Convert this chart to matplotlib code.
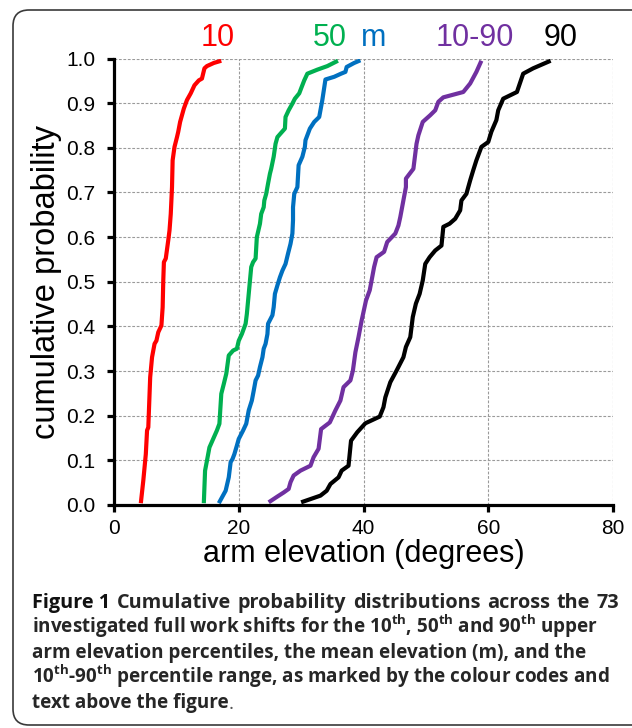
import matplotlib
matplotlib.use("Agg")
import matplotlib.pyplot as plt
from matplotlib.patches import FancyBboxPatch
from matplotlib.transforms import IdentityTransform

# ---------------- data ----------------
p10_x = [4.3, 4.7, 5.1, 5.3, 5.5, 5.8, 6.1, 6.5, 6.8, 7.1, 7.6, 7.8, 7.9, 8.0, 8.3, 8.7, 8.9,
         9.1, 9.3, 9.4, 9.7, 10.1, 10.3, 10.6, 11.2, 11.7, 12.3, 12.9, 13.6, 14.1, 14.5, 14.9,
         16.0, 17.2]
p10_y = [0.004, 0.055, 0.114, 0.167, 0.174, 0.286, 0.331, 0.361, 0.368, 0.387, 0.402, 0.443,
         0.503, 0.544, 0.552, 0.593, 0.615, 0.652, 0.712, 0.772, 0.802, 0.824, 0.836, 0.858,
         0.888, 0.907, 0.922, 0.940, 0.951, 0.955, 0.978, 0.983, 0.990, 0.995]

p50_x = [14.4, 14.6, 14.9, 15.3, 15.9, 16.5, 16.9, 17.2, 17.6, 18.0, 18.4, 19.1, 19.7, 20.0,
         20.5, 21.1, 21.3, 21.6, 22.0, 22.3, 22.7, 22.9, 23.4, 23.6, 24.0, 24.1, 24.4, 24.7,
         25.0, 25.2, 25.6, 25.9, 26.2, 26.7, 27.4, 27.5, 28.0, 28.6, 29.0, 29.7, 30.0, 30.5,
         31.0, 32.6, 34.2, 35.9]
p50_y = [0.004, 0.077, 0.099, 0.129, 0.148, 0.167, 0.182, 0.249, 0.271, 0.294, 0.335, 0.346,
         0.350, 0.368, 0.383, 0.406, 0.428, 0.473, 0.533, 0.544, 0.552, 0.600, 0.630, 0.652,
         0.667, 0.682, 0.697, 0.720, 0.742, 0.753, 0.780, 0.809, 0.824, 0.832, 0.843, 0.869,
         0.884, 0.899, 0.910, 0.922, 0.933, 0.951, 0.966, 0.975, 0.983, 0.995]

mean_x = [16.8, 17.9, 18.4, 18.7, 19.0, 19.3, 19.7, 20.0, 20.7, 21.2, 21.6, 22.1, 22.4, 22.7,
          23.1, 23.4, 23.8, 24.0, 24.3, 24.6, 24.7, 25.4, 25.6, 25.8, 26.2, 26.6, 27.0, 27.5,
          27.9, 28.3, 28.6, 28.7, 28.7, 28.9, 29.4, 29.6, 30.2, 30.6, 30.7, 31.4, 32.1, 32.9,
          33.4, 33.9, 35.3, 36.4, 37.1, 37.3, 38.5, 39.5]
mean_y = [0.004, 0.032, 0.062, 0.096, 0.103, 0.114, 0.133, 0.148, 0.167, 0.182, 0.212, 0.234,
          0.256, 0.279, 0.290, 0.309, 0.331, 0.350, 0.361, 0.383, 0.406, 0.425, 0.443, 0.473,
          0.492, 0.510, 0.525, 0.540, 0.563, 0.585, 0.608, 0.638, 0.667, 0.697, 0.712, 0.761,
          0.780, 0.802, 0.817, 0.843, 0.858, 0.869, 0.907, 0.953, 0.959, 0.966, 0.970, 0.981,
          0.990, 0.996]

rng_x = [24.8, 26.2, 27.2, 28.0, 28.3, 28.8, 29.9, 31.5, 32.0, 32.8, 33.2, 34.6, 35.5, 36.3,
         36.8, 37.9, 38.3, 38.7, 39.2, 39.7, 40.4, 41.0, 41.3, 41.7, 42.1, 43.3, 43.8, 45.1,
         45.6, 45.9, 46.5, 46.8, 46.8, 47.4, 48.0, 48.5, 48.8, 49.5, 50.7, 51.5, 52.0, 52.8,
         56.0, 57.1, 58.1, 58.9]
rng_y = [0.006, 0.019, 0.028, 0.036, 0.051, 0.066, 0.077, 0.088, 0.107, 0.126, 0.170, 0.185,
         0.212, 0.234, 0.264, 0.279, 0.301, 0.342, 0.376, 0.413, 0.458, 0.481, 0.503, 0.533,
         0.555, 0.567, 0.589, 0.608, 0.626, 0.645, 0.690, 0.712, 0.731, 0.742, 0.753, 0.809,
         0.828, 0.858, 0.873, 0.884, 0.903, 0.913, 0.925, 0.944, 0.970, 0.995]

p90_x = [30.0, 33.1, 34.1, 34.7, 36.0, 36.5, 37.6, 38.0, 39.0, 40.3, 42.6, 43.2, 43.5, 44.3,
         45.3, 46.4, 46.8, 47.5, 47.9, 48.4, 49.0, 49.5, 49.9, 50.6, 51.5, 52.5, 52.8, 53.8,
         54.7, 55.5, 55.7, 56.5, 57.1, 57.6, 58.1, 58.9, 60.0, 60.5, 61.3, 61.6, 62.4, 64.6,
         65.6, 67.2, 70.0]
p90_y = [0.006, 0.021, 0.032, 0.047, 0.062, 0.077, 0.088, 0.144, 0.163, 0.183, 0.198, 0.219,
         0.241, 0.275, 0.301, 0.331, 0.354, 0.376, 0.421, 0.451, 0.473, 0.503, 0.540, 0.555,
         0.570, 0.581, 0.623, 0.630, 0.641, 0.660, 0.682, 0.697, 0.727, 0.750, 0.772, 0.802,
         0.813, 0.836, 0.862, 0.884, 0.910, 0.925, 0.966, 0.978, 0.995]

series_names = ["10", "50", "m", "10-90", "90"]
series_colors = ["#ff0000", "#00b050", "#0070c0", "#7030a0", "#000000"]
series_x = [p10_x, p50_x, mean_x, rng_x, p90_x]
series_y = [p10_y, p50_y, mean_y, rng_y, p90_y]
label_x = [16.7, 34.6, 41.7, 57.8, 71.6]

x_ticks = [0, 20, 40, 60, 80]
y_ticks = [0.0, 0.1, 0.2, 0.3, 0.4, 0.5, 0.6, 0.7, 0.8, 0.9, 1.0]
x_label = "arm elevation (degrees)"
y_label = "cumulative probability"

caption_head = "Figure 1"
caption_line1 = "Cumulative probability distributions across the 73"
caption_lines = [
    r"investigated full work shifts for the 10$^{\mathrm{th}}$, 50$^{\mathrm{th}}$ and 90$^{\mathrm{th}}$ upper",
    "arm elevation percentiles, the mean elevation (m), and the",
    r"10$^{\mathrm{th}}$-90$^{\mathrm{th}}$ percentile range, as marked by the colour codes and",
    "text above the figure",
]

# ---------------- figure ----------------
W, H, DPI = 632, 728, 100
plt.rcParams["font.family"] = ["Liberation Sans", "DejaVu Sans"]
plt.rcParams["mathtext.fontset"] = "custom"
plt.rcParams["mathtext.rm"] = "Open Sans:bold"
fig = plt.figure(figsize=(W / DPI, H / DPI), dpi=DPI)
fig.patch.set_facecolor("white")

# rounded frame
frame = FancyBboxPatch((13, 3), 660, 715, boxstyle="round,pad=0,rounding_size=16",
                       transform=IdentityTransform(), facecolor="none",
                       edgecolor="#3a3a3a", linewidth=1.2)
fig.add_artist(frame)

ax = fig.add_axes([114 / W, (H - 505) / H, 499 / W, 446.5 / H])
for xs, ys, c in zip(series_x, series_y, series_colors):
    ax.plot(xs, ys, color=c, lw=3.0, solid_joinstyle="round", solid_capstyle="butt", zorder=3)

ax.set_xlim(0, 80)
ax.set_ylim(0, 1.0)
ax.set_xticks(x_ticks)
ax.set_yticks(y_ticks)
ax.set_yticklabels([f"{v:.1f}" for v in y_ticks])
ax.grid(True, color="#9a9a9a", lw=0.8, ls=(0, (2.5, 1.5)), zorder=1)
ax.set_axisbelow(True)
for s in ["top", "right"]:
    ax.spines[s].set_visible(False)
for s in ["left", "bottom"]:
    ax.spines[s].set_linewidth(2.3)
    ax.spines[s].set_color("black")
    ax.spines[s].set_zorder(4)
ax.tick_params(axis="both", direction="out", length=5, width=2.3, color="black",
               labelsize=15)
ax.tick_params(axis="y", pad=8.5)
ax.tick_params(axis="x", pad=5)
ax.set_xlabel(x_label, fontsize=22, labelpad=1)
ax.set_ylabel(y_label, fontsize=23.5, labelpad=3)

for name, lx, c in zip(series_names, label_x, series_colors):
    ax.text(lx, 1.045, name, color=c, fontsize=22, ha="center", va="center",
            transform=ax.get_xaxis_transform(), clip_on=False)

# ---------------- caption ----------------
cap_fs = 13.6
cap_fs1 = 14.3
cap_color = "#262626"
cap_family = ["Open Sans", "DejaVu Sans"]
x0_px, x1_px = 32, 619
base_y = [608, 633, 658, 683, 708]
renderer = fig.canvas.get_renderer()

# first line: words spread across the full caption width
words = [(caption_head, "#111111")] + [(w, cap_color) for w in caption_line1.split(" ")]
arts = []
for w, c in words:
    a = fig.text(0, 1 - base_y[0] / H, w, fontsize=cap_fs1, fontweight="bold",
                 family=cap_family, color=c, va="baseline", ha="left")
    arts.append(a)
widths = [a.get_window_extent(renderer).width for a in arts]
gap = (x1_px - x0_px - sum(widths)) / (len(arts) - 1)
xp = x0_px
for a, wd in zip(arts, widths):
    a.set_x(xp / W)
    xp += wd + gap

for by, s in zip(base_y[1:], caption_lines):
    tt = fig.text(x0_px / W, 1 - by / H, s, fontsize=cap_fs, fontweight="bold",
                  family=cap_family, color=cap_color, va="baseline", ha="left")
plt.annotate(".", xy=(1, 0), xycoords=tt, va="bottom", ha="left", fontsize=cap_fs,
             family=cap_family, color="#555555", annotation_clip=False)

fig.savefig("out.png", dpi=DPI)
